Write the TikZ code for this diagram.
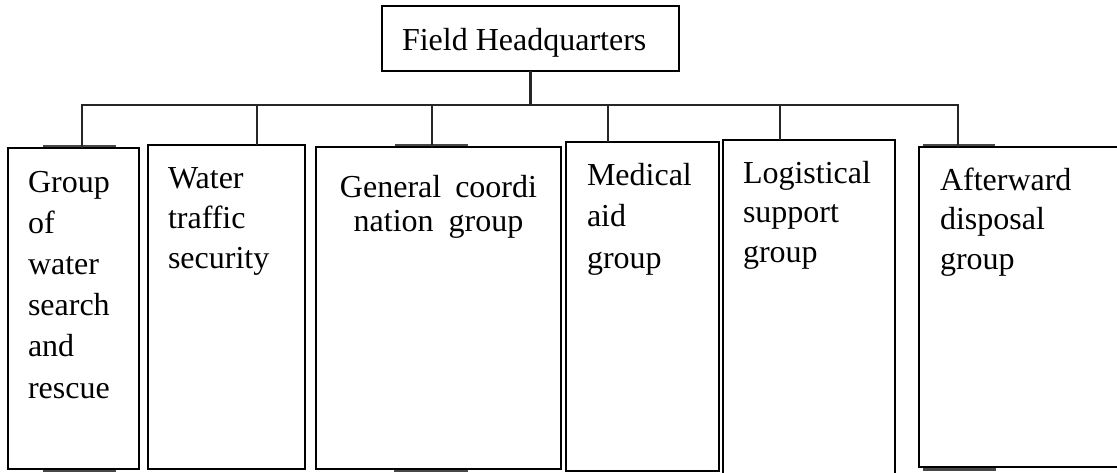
\documentclass[tikz,border=0pt]{standalone}
\usepackage{fontspec}
\setmainfont{Liberation Serif}
% multi-line label whose baseline is the baseline of its first line
\newcommand\boxtext[3][\raggedright]{\parbox[t]{250pt}{#1\fontsize{32pt}{#2}\selectfont #3}}
\tikzset{
  unitbox/.style={draw=black, line width=1.4pt, rectangle, inner sep=0pt, outer sep=0pt,
                  anchor=north west, fill=white},
  lbl/.style={inner sep=0pt, outer sep=0pt, anchor=base west},
  wire/.style={draw=black!85, line width=2.4pt},
  tab/.style={draw=black!72, line width=2.8pt}
}
\begin{document}
\begin{tikzpicture}[x=1pt, y=-1pt]
  \path[use as bounding box, clip] (0,0) rectangle (1117,472);

  % headquarters
  \node[unitbox, minimum width=297pt, minimum height=65pt] (hq) at (382,6) {};
  \node[lbl, font=\fontsize{32pt}{38pt}\selectfont] (hqtext) at (402,50) {Field Headquarters};

  % thick strips along some box edges
  \draw[tab] (43,146) -- (116,146);
  \draw[tab] (43,471) -- (116,471);
  \draw[tab] (395,145.5) -- (468,145.5);
  \draw[tab] (394,470.5) -- (468,470.5);
  \draw[tab] (923,145.5) -- (995,145.5);
  \draw[tab] (923,469.5) -- (996,469.5);

  % group boxes
  \node[unitbox, minimum width=131pt, minimum height=321pt] (b1) at (8,148) {};
  \node[unitbox, minimum width=157pt, minimum height=324pt] (b2) at (148,145) {};
  \node[unitbox, minimum width=245pt, minimum height=322pt] (b3) at (316,147) {};
  \node[unitbox, minimum width=153pt, minimum height=329pt] (b4) at (566,142) {};
  \node[unitbox, minimum width=172pt, minimum height=350pt] (b5) at (723,140) {};
  \node[unitbox, minimum width=220pt, minimum height=320pt] (b6) at (919,147) {};

  % labels
  \node[lbl] (t1) at (28,192) {\boxtext{41.2pt}{Group\\of\\water\\search\\and\\rescue}};
  \node[lbl] (t2) at (168,188.3) {\boxtext{40pt}{Water\\traffic\\security}};
  \node[lbl, anchor=base] (t3) at (438.5,197) {\boxtext[\centering]{34.3pt}{General\hspace{14pt}coordi\\nation\hspace{15pt}group}};
  \node[lbl] (t4) at (587,185) {\boxtext{41.5pt}{Medical\\aid\\group}};
  \node[lbl] (t5) at (743,183.5) {\boxtext{39.3pt}{Logistical\\support\\group}};
  \node[lbl] (t6) at (940,190) {\boxtext{39.7pt}{Afterward\\disposal\\group}};

  % connector bus
  \coordinate (d1) at (82,105);
  \coordinate (d2) at (257,105);
  \coordinate (d3) at (432,105);
  \coordinate (d4) at (608,105);
  \coordinate (d5) at (780,105);
  \coordinate (d6) at (958,105);
  \draw[wire] (hq.south) -- (hq.south |- d1);
  \draw[wire, line cap=rect] (d1) -- (d6);
  \draw[wire] (d1) -- (d1 |- b1.north);
  \draw[wire] (d2) -- (d2 |- b2.north);
  \draw[wire] (d3) -- (d3 |- b3.north);
  \draw[wire] (d4) -- (d4 |- b4.north);
  \draw[wire] (d5) -- (d5 |- b5.north);
  \draw[wire] (d6) -- (d6 |- b6.north);
\end{tikzpicture}
\end{document}
